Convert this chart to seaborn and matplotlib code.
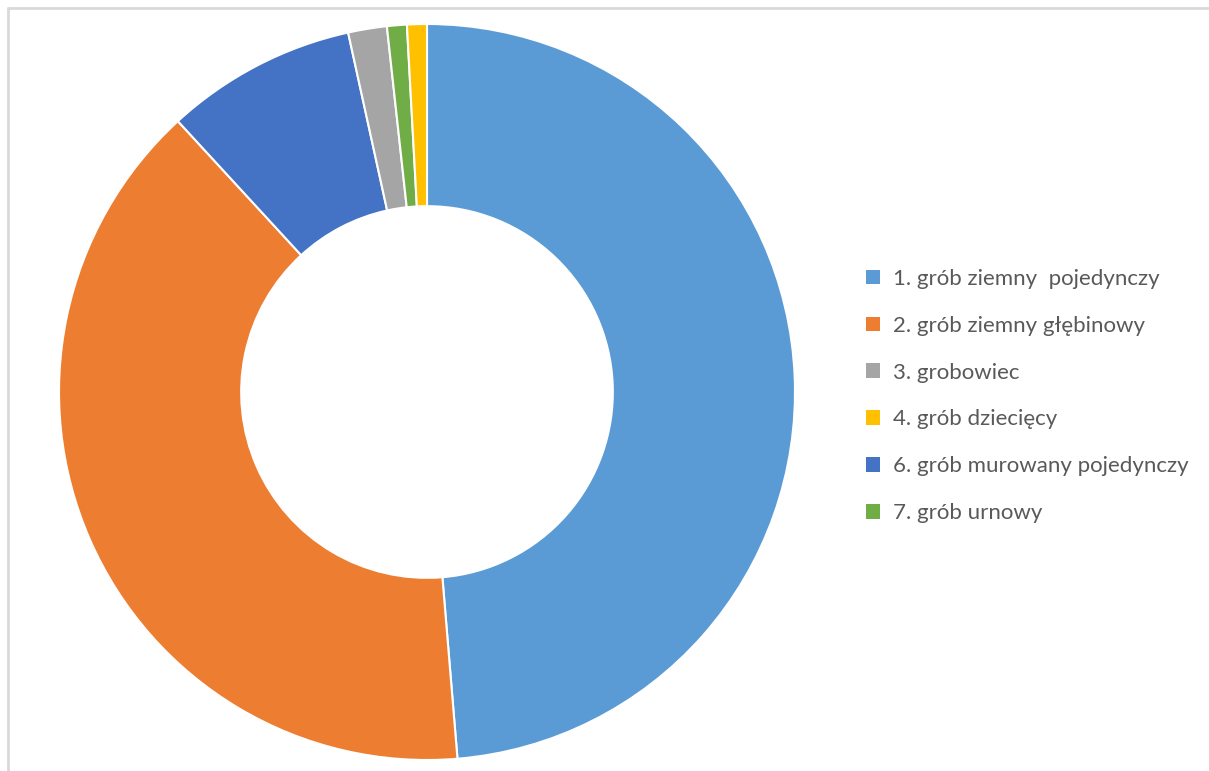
import matplotlib
matplotlib.use("Agg")
import matplotlib.pyplot as plt
from matplotlib.patches import Patch
from matplotlib.lines import Line2D
import seaborn as sns

# Data (percent shares)
categories = ["1. grób ziemny  pojedynczy", "2. grób ziemny głębinowy", "3. grobowiec",
              "4. grób dziecięcy", "6. grób murowany pojedynczy", "7. grób urnowy"]
values = [48.7, 39.5, 1.7, 0.87, 8.4, 0.87]
colors = ["#5B9BD5", "#ED7D31", "#A5A5A5", "#FFC000", "#4472C4", "#70AD47"]
slice_order = [0, 1, 4, 2, 5, 3]  # clockwise order of slices from the top

sns.set_theme(style="white")
plt.rcParams['font.family'] = ['Lato', 'DejaVu Sans']

W, H = 1209, 771
fig = plt.figure(figsize=(W / 100, H / 100), dpi=100)
fig.patch.set_facecolor("white")

cx, cy, r = 427, 392, 368
ax = fig.add_axes([(cx - r) / W, (H - cy - r) / H, 2 * r / W, 2 * r / H])

ax.pie([values[i] for i in slice_order],
       colors=[colors[i] for i in slice_order],
       startangle=90, counterclock=False, radius=1.0,
       wedgeprops=dict(width=0.495, edgecolor="white", linewidth=1.5))
ax.set_xlim(-1, 1)
ax.set_ylim(-1, 1)
ax.set_aspect("equal")
ax.axis("off")

handles = [Patch(facecolor=colors[i], edgecolor="none", label=categories[i])
           for i in range(len(categories))]
leg = fig.legend(handles=handles, loc="center left",
                 bbox_to_anchor=(866 / W, 1 - 396 / H), frameon=False,
                 fontsize=16, labelspacing=1.21, handlelength=0.63, handleheight=0.63,
                 handletextpad=0.59, borderaxespad=0, borderpad=0)
for t in leg.get_texts():
    t.set_color("#595959")

# light frame (only top & left edges visible in reference)
fig.add_artist(Line2D([8 / W, 1.0], [1 - 8 / H, 1 - 8 / H], transform=fig.transFigure,
                      color="#D9D9D9", linewidth=2))
fig.add_artist(Line2D([8 / W, 8 / W], [0.0, 1 - 8 / H], transform=fig.transFigure,
                      color="#D9D9D9", linewidth=2))

fig.savefig("out.png", dpi=100)
